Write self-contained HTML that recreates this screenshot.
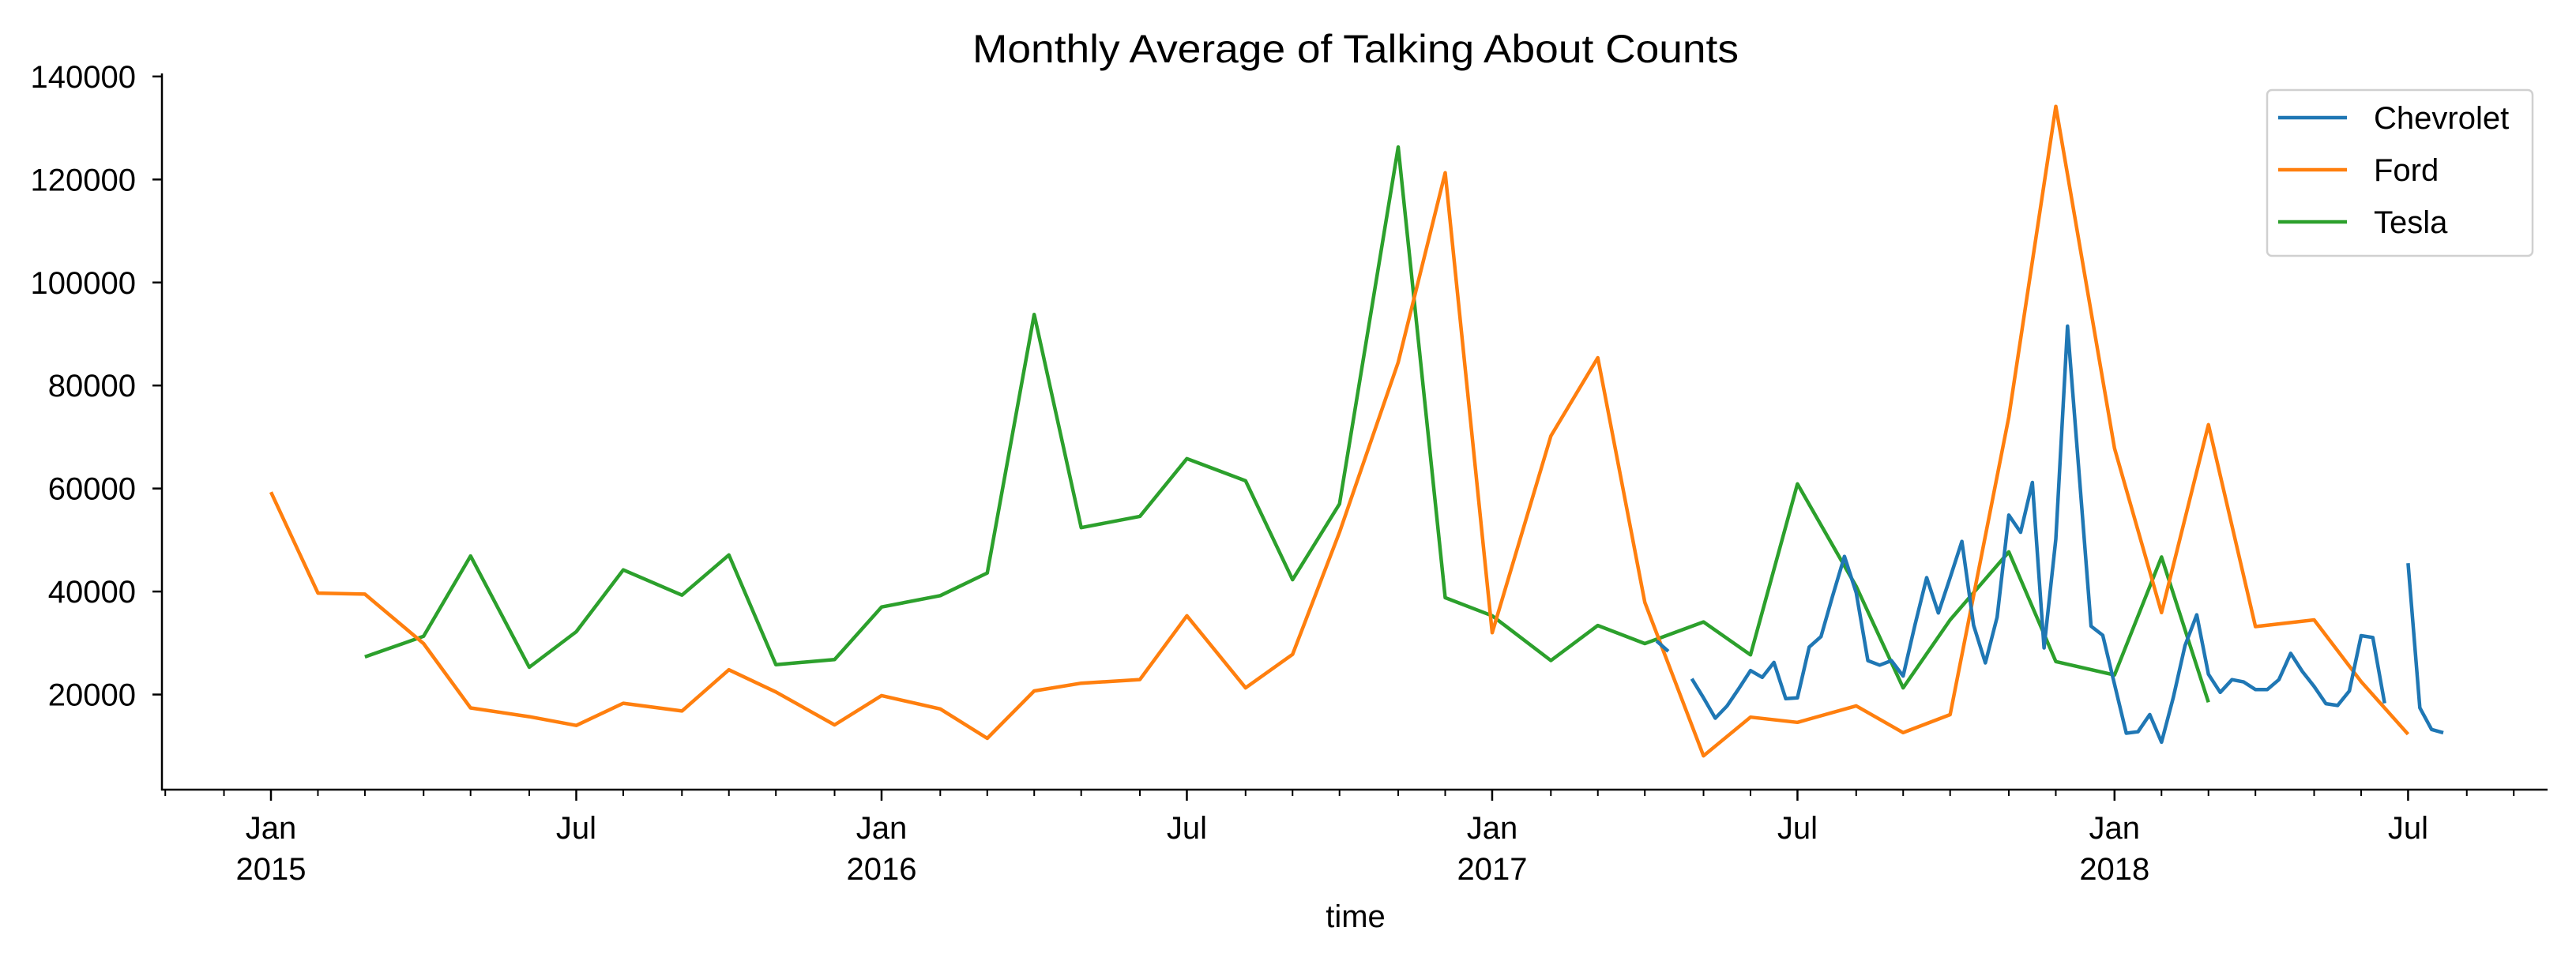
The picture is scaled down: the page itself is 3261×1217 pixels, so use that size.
<!DOCTYPE html>
<html><head><meta charset="utf-8">
<style>
html,body{margin:0;padding:0;background:#fff;}
svg{display:block;font-family:"Liberation Sans","DejaVu Sans",sans-serif;}
</style></head>
<body>
<svg id="chart" width="3261" height="1217" viewBox="0 0 3261 1217" xmlns="http://www.w3.org/2000/svg">
<rect width="3261" height="1217" fill="#fff"/>
<text x="1716" y="79" font-size="50" text-anchor="middle" textLength="970" lengthAdjust="spacingAndGlyphs">Monthly Average of Talking About Counts</text>
<g id="axes"></g>
<g id="series"></g>
<g>
<rect x="2870" y="114" width="336" height="210" rx="6" fill="#fff" fill-opacity="0.8" stroke="#d0d0d0" stroke-width="2.5"/>
<line x1="2884" y1="149" x2="2971" y2="149" stroke="#1f77b4" stroke-width="4.5"/>
<text x="3005" y="163" font-size="40">Chevrolet</text>
<line x1="2884" y1="215" x2="2971" y2="215" stroke="#ff7f0e" stroke-width="4.5"/>
<text x="3005" y="229" font-size="40">Ford</text>
<line x1="2884" y1="281" x2="2971" y2="281" stroke="#2ca02c" stroke-width="4.5"/>
<text x="3005" y="295" font-size="40">Tesla</text>
</g>
<text x="1716" y="1174" font-size="40" text-anchor="middle">time</text>
</svg>
<script>
// monthly series start Jan 2015 (Ford) / Mar 2015 (Tesla)
const fordStart = [2015, 0];
const fordValues = [59300,39700,39500,29900,17400,15700,14000,18300,16800,24800,20500,14100,
 19800,17200,11500,20700,22200,22900,35300,21300,27800,51500,84500,121300,
 32000,70200,85400,37900,8100,15600,14600,17800,12600,16100,73900,134200,
 67800,35900,72400,33200,34500,22500,12300];
const teslaStart = [2015, 2];
const teslaValues = [27300,31300,46900,25300,32200,44200,39300,47100,25800,26800,
 37000,39200,43600,93800,52400,54600,65800,61500,42300,57000,126300,38800,
 35300,26600,33400,29900,34100,27700,60900,41000,21300,34500,47700,26400,
 23800,46700,18500];
// weekly series: week index from the Jan-2015 week
const chevStartWeek = 118;
const chevValues = [30400,28400,null,
 23060,19360,15410,17790,21130,24650,23330,26230,19190,19360,29220,31250,39170,46820,39790,
 26590,25710,26590,23600,33450,42700,35830,42700,49740,33450,26140,35030,54840,51500,61170,
 29050,50170,91530,62490,33270,31510,22000,12500,12770,16110,10750,19360,29480,35480,23950,
 20420,22890,22450,20960,20960,22890,28000,24470,21570,18230,17880,20700,31430,31080,18310,
 null,45500,17430,13220,12590];
const yTicks = [20000,40000,60000,80000,100000,120000,140000];
const xMajorLabels = [["Jan","2015"],["Jul",""],["Jan","2016"],["Jul",""],["Jan","2017"],["Jul",""],["Jan","2018"],["Jul",""]];

const NS="http://www.w3.org/2000/svg";
const X0=343, PXW=14.865, Y0=1010, PXV=130.45/20000;
const AX_L=205, AX_R=3225, AX_B=1000, AX_T=93;
const REF=Date.UTC(2014,11,29);
function weekOf(y,m,d){return Math.floor((Date.UTC(y,m,d||1)-REF)/86400000/7);}
function xw(w){return X0+w*PXW;}
function xm(y,m){return xw(weekOf(y,m,1));}
function yv(v){return Y0-v*PXV;}
function mk(tag,attrs,parent){const e=document.createElementNS(NS,tag);for(const k in attrs)e.setAttribute(k,attrs[k]);parent.appendChild(e);return e;}
const axes=document.getElementById('axes');
const series=document.getElementById('series');

const ySpine=mk('line',{x1:AX_L,y1:AX_T,x2:AX_L,y2:AX_B+1,stroke:'#000','stroke-width':2.5},axes);


const xSpine=mk('line',{x1:AX_L-1,y1:AX_B,x2:AX_R,y2:AX_B,stroke:'#000','stroke-width':2.5},axes);



yTicks.forEach(v=>{
  const y=yv(v);
  const t=mk('line',{x1:AX_L-12,y1:y,x2:AX_L,y2:y,stroke:'#000','stroke-width':2.5},axes);
  
  
  const l=mk('text',{x:172,y:y+14,'font-size':40,'text-anchor':'end'},axes);
  
  
  l.textContent=String(v);
});

// minor month ticks Nov 2014 .. Sep 2018
for(let i=-2;i<45;i++){
  const y=2015+Math.floor(i/12), m=((i%12)+12)%12;
  const x=xm(y,m);
  if(x<AX_L||x>AX_R) continue;
  const major=(m===0||m===6);
  const t=mk('line',{x1:x,y1:AX_B,x2:x,y2:AX_B+(major?14:8),stroke:'#000','stroke-width':major?2.5:2},axes);
  
  
}
xMajorLabels.forEach((lab,i)=>{
  const y=2015+Math.floor(i/2), m=(i%2)*6;
  const x=xm(y,m);
  const a=mk('text',{x:x,y:1062,'font-size':40,'text-anchor':'middle'},axes);
  
  
  a.textContent=lab[0];
  if(lab[1]){
    const b=mk('text',{x:x,y:1114,'font-size':40,'text-anchor':'middle'},axes);
    
    
    b.textContent=lab[1];
  }
});

function drawSegments(pts,color,name){
  let seg=[];
  const flush=()=>{
    if(seg.length>1){
      const p=mk('polyline',{points:seg.map(q=>q[0].toFixed(1)+','+q[1].toFixed(1)).join(' '),fill:'none',stroke:color,'stroke-width':4.5,'stroke-linejoin':'round'},series);
      
      
    }
    seg=[];
  };
  pts.forEach(q=>{ if(q[1]===null) flush(); else seg.push([q[0],yv(q[1])]); });
  flush();
}
function monthly(start,vals){
  return vals.map((v,i)=>{const k=start[1]+i;return [xm(start[0]+Math.floor(k/12),k%12),v];});
}
drawSegments(monthly(teslaStart,teslaValues),'#2ca02c','tesla-line');
drawSegments(monthly(fordStart,fordValues),'#ff7f0e','ford-line');
drawSegments(chevValues.map((v,i)=>[xw(chevStartWeek+i),v]),'#1f77b4','chevrolet-line');
</script>
</body></html>
